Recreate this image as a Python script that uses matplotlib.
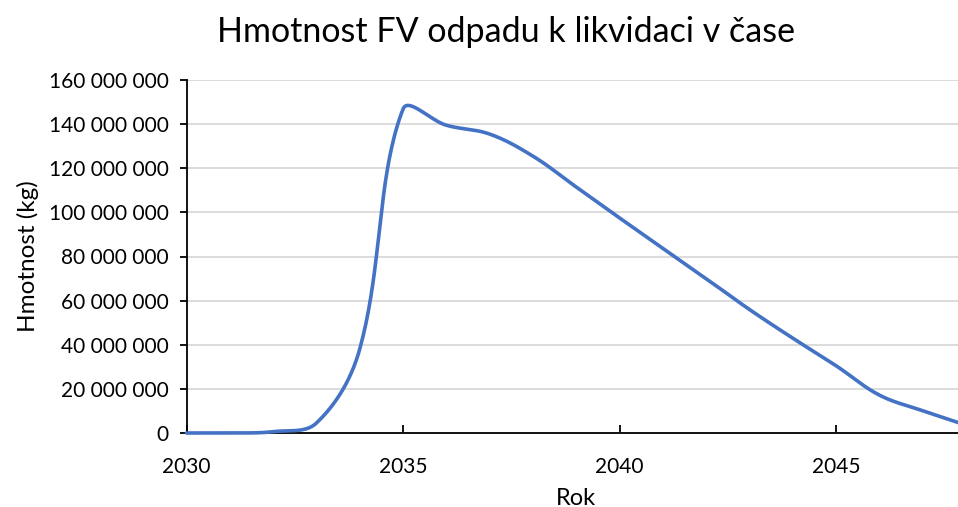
import numpy as np
import matplotlib
matplotlib.use("Agg")
import matplotlib.pyplot as plt
from matplotlib.ticker import FuncFormatter, MultipleLocator

plt.rcParams['font.family'] = ['Lato', 'DejaVu Sans']

years = [2030, 2031, 2032, 2033, 2034, 2035, 2036, 2037, 2038, 2039,
         2040, 2041, 2042, 2043, 2044, 2045, 2046, 2047, 2048]
mass_kg = [0, 0, 0.6e6, 4.5e6, 38.0e6, 146.8e6, 139.5e6, 135.5e6, 125.5e6, 111.5e6,
           97.5e6, 83.7e6, 70.0e6, 56.0e6, 43.0e6, 30.5e6, 17.2e6, 10.1e6, 3.6e6]

title = "Hmotnost FV odpadu k likvidaci v čase"
xlabel = "Rok"
ylabel = "Hmotnost (kg)"

W, H = 958, 507
fig = plt.figure(figsize=(W / 100, H / 100), dpi=100)
left = 186.5 / W
right_px = 186.5 + 18 * 43.3
bottom = (H - 433) / H
top = (H - 80) / H
ax = fig.add_axes([left, bottom, (right_px - 186.5) / W, top - bottom])
ax.set_xlim(2030, 2048)
ax.set_ylim(0, 160e6)


def excel_smooth(xs, ys, n=40):
    # Excel-like smoothing: cubic Bezier, control points scaled by segment lengths (display space)
    pts = ax.transData.transform(np.column_stack([xs, ys]))
    m = len(pts)
    out = [pts[0]]
    f = 0.36
    for i in range(m - 1):
        p0 = pts[i - 1] if i > 0 else pts[i]
        p1 = pts[i]
        p2 = pts[i + 1]
        p3 = pts[i + 2] if i + 2 < m else pts[i + 1]
        d01 = np.linalg.norm(p1 - p0)
        d12 = np.linalg.norm(p2 - p1)
        d23 = np.linalg.norm(p3 - p2)
        c1 = p1 + (p2 - p0) * f * d12 / (d01 + d12) if d01 + d12 > 0 else p1
        c2 = p2 - (p3 - p1) * f * d12 / (d12 + d23) if d12 + d23 > 0 else p2
        t = np.linspace(0, 1, n)[1:, None]
        seg = ((1 - t) ** 3) * p1 + 3 * ((1 - t) ** 2) * t * c1 + 3 * (1 - t) * t ** 2 * c2 + t ** 3 * p2
        out.extend(seg)
    out = np.array(out)
    return ax.transData.inverted().transform(out)


curve = excel_smooth(years, mass_kg)
ax.plot(curve[:, 0], curve[:, 1], color='#4472C4', lw=2.6, solid_capstyle='round', clip_on=False, zorder=3)

ax.yaxis.set_major_locator(MultipleLocator(20e6))
ax.xaxis.set_major_locator(MultipleLocator(5))
ax.yaxis.set_major_formatter(FuncFormatter(lambda v, p: f"{int(round(v)):,}".replace(",", " ")))
ax.grid(axis='y', color='#d9d9d9', lw=1.3)
ax.set_axisbelow(True)
for s in ['top', 'right']:
    ax.spines[s].set_visible(False)
for s in ['left', 'bottom']:
    ax.spines[s].set_color('black')
    ax.spines[s].set_linewidth(1.3)
ax.tick_params(axis='y', direction='out', length=5, width=1.3, labelsize=15, pad=8, colors='black')
ax.tick_params(axis='x', direction='in', length=6, width=1.3, labelsize=15, pad=17, colors='black')

ax.set_xlabel(xlabel, fontsize=17, labelpad=8)
ax.set_ylabel(ylabel, fontsize=17.5, labelpad=7)
fig.text(0.528, 0.937, title, ha='center', va='center', fontsize=24.5)

fig.savefig("out.png", dpi=100)
